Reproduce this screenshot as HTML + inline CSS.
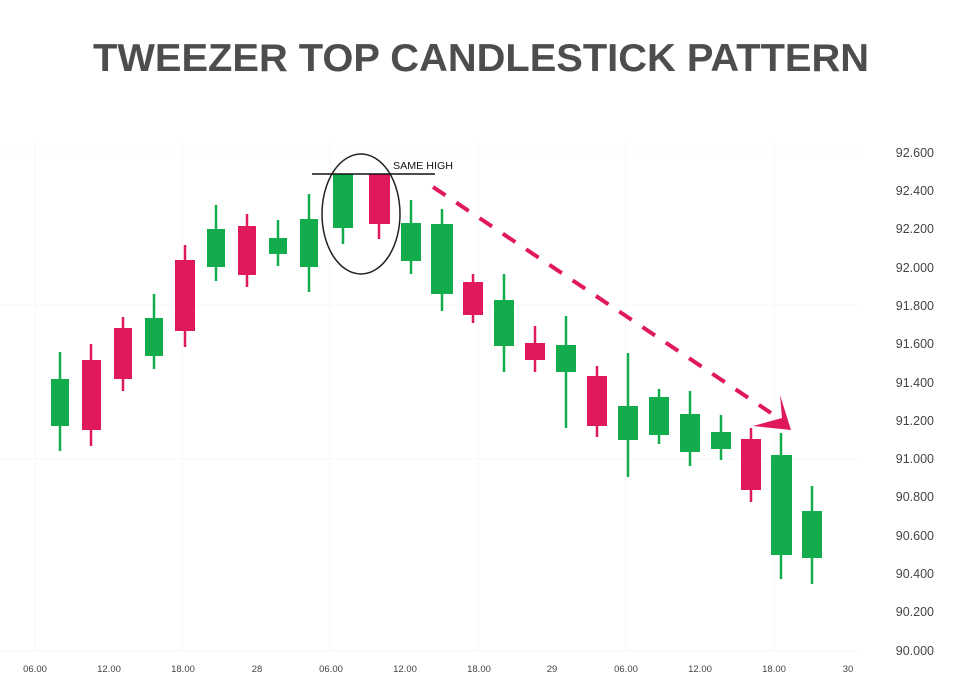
<!DOCTYPE html>
<html><head><meta charset="utf-8"><style>
html,body{margin:0;padding:0;background:#fff;}
svg{display:block;}
</style></head><body>
<svg width="960" height="686" viewBox="0 0 960 686" xmlns="http://www.w3.org/2000/svg">
<rect width="960" height="686" fill="#fff"/>
<text x="481" y="71" text-anchor="middle" font-family="Liberation Sans, sans-serif" font-weight="bold" font-size="39" fill="#4d4d4d" textLength="776" lengthAdjust="spacingAndGlyphs">TWEEZER TOP CANDLESTICK PATTERN</text>
<g stroke="#f7f7f7" stroke-width="1">
<line x1="0" y1="152" x2="860" y2="152"/><line x1="0" y1="305" x2="860" y2="305"/><line x1="0" y1="459" x2="860" y2="459"/><line x1="0" y1="651" x2="860" y2="651"/>
<line x1="35" y1="140" x2="35" y2="651"/><line x1="182" y1="140" x2="182" y2="651"/><line x1="330" y1="140" x2="330" y2="651"/><line x1="478" y1="140" x2="478" y2="651"/><line x1="626" y1="140" x2="626" y2="651"/><line x1="774" y1="140" x2="774" y2="651"/>
</g>
<g font-family="Liberation Sans, sans-serif" font-size="12.5" fill="#444" text-anchor="end">
<text x="934" y="157">92.600</text><text x="934" y="195">92.400</text><text x="934" y="233">92.200</text><text x="934" y="272">92.000</text><text x="934" y="310">91.800</text><text x="934" y="348">91.600</text><text x="934" y="387">91.400</text><text x="934" y="425">91.200</text><text x="934" y="463">91.000</text><text x="934" y="501">90.800</text><text x="934" y="540">90.600</text><text x="934" y="578">90.400</text><text x="934" y="616">90.200</text><text x="934" y="655">90.000</text>
</g>
<g font-family="Liberation Sans, sans-serif" font-size="9.5" fill="#444" text-anchor="middle">
<text x="35" y="672">06.00</text><text x="109" y="672">12.00</text><text x="183" y="672">18.00</text><text x="257" y="672">28</text><text x="331" y="672">06.00</text><text x="405" y="672">12.00</text><text x="479" y="672">18.00</text><text x="552" y="672">29</text><text x="626" y="672">06.00</text><text x="700" y="672">12.00</text><text x="774" y="672">18.00</text><text x="848" y="672">30</text>
</g>
<g stroke-width="2.5">
<line x1="60" y1="352" x2="60" y2="451" stroke="#12ac4c"/><rect x="51" y="379" width="18" height="47" fill="#12ac4c"/>
<line x1="91" y1="344" x2="91" y2="446" stroke="#e0195a"/><rect x="82" y="360" width="19" height="70" fill="#e0195a"/>
<line x1="123" y1="317" x2="123" y2="391" stroke="#e0195a"/><rect x="114" y="328" width="18" height="51" fill="#e0195a"/>
<line x1="154" y1="294" x2="154" y2="369" stroke="#12ac4c"/><rect x="145" y="318" width="18" height="38" fill="#12ac4c"/>
<line x1="185" y1="245" x2="185" y2="347" stroke="#e0195a"/><rect x="175" y="260" width="20" height="71" fill="#e0195a"/>
<line x1="216" y1="205" x2="216" y2="281" stroke="#12ac4c"/><rect x="207" y="229" width="18" height="38" fill="#12ac4c"/>
<line x1="247" y1="214" x2="247" y2="287" stroke="#e0195a"/><rect x="238" y="226" width="18" height="49" fill="#e0195a"/>
<line x1="278" y1="220" x2="278" y2="266" stroke="#12ac4c"/><rect x="269" y="238" width="18" height="16" fill="#12ac4c"/>
<line x1="309" y1="194" x2="309" y2="292" stroke="#12ac4c"/><rect x="300" y="219" width="18" height="48" fill="#12ac4c"/>
<line x1="343" y1="174" x2="343" y2="244" stroke="#12ac4c"/><rect x="333" y="174" width="20" height="54" fill="#12ac4c"/>
<line x1="379" y1="174" x2="379" y2="239" stroke="#e0195a"/><rect x="369" y="174" width="21" height="50" fill="#e0195a"/>
<line x1="411" y1="200" x2="411" y2="274" stroke="#12ac4c"/><rect x="401" y="223" width="20" height="38" fill="#12ac4c"/>
<line x1="442" y1="209" x2="442" y2="311" stroke="#12ac4c"/><rect x="431" y="224" width="22" height="70" fill="#12ac4c"/>
<line x1="473" y1="274" x2="473" y2="323" stroke="#e0195a"/><rect x="463" y="282" width="20" height="33" fill="#e0195a"/>
<line x1="504" y1="274" x2="504" y2="372" stroke="#12ac4c"/><rect x="494" y="300" width="20" height="46" fill="#12ac4c"/>
<line x1="535" y1="326" x2="535" y2="372" stroke="#e0195a"/><rect x="525" y="343" width="20" height="17" fill="#e0195a"/>
<line x1="566" y1="316" x2="566" y2="428" stroke="#12ac4c"/><rect x="556" y="345" width="20" height="27" fill="#12ac4c"/>
<line x1="597" y1="366" x2="597" y2="437" stroke="#e0195a"/><rect x="587" y="376" width="20" height="50" fill="#e0195a"/>
<line x1="628" y1="353" x2="628" y2="477" stroke="#12ac4c"/><rect x="618" y="406" width="20" height="34" fill="#12ac4c"/>
<line x1="659" y1="389" x2="659" y2="444" stroke="#12ac4c"/><rect x="649" y="397" width="20" height="38" fill="#12ac4c"/>
<line x1="690" y1="391" x2="690" y2="466" stroke="#12ac4c"/><rect x="680" y="414" width="20" height="38" fill="#12ac4c"/>
<line x1="721" y1="415" x2="721" y2="460" stroke="#12ac4c"/><rect x="711" y="432" width="20" height="17" fill="#12ac4c"/>
<line x1="751" y1="428" x2="751" y2="502" stroke="#e0195a"/><rect x="741" y="439" width="20" height="51" fill="#e0195a"/>
<line x1="781" y1="433" x2="781" y2="579" stroke="#12ac4c"/><rect x="771" y="455" width="21" height="100" fill="#12ac4c"/>
<line x1="812" y1="486" x2="812" y2="584" stroke="#12ac4c"/><rect x="802" y="511" width="20" height="47" fill="#12ac4c"/>
</g>
<ellipse cx="361" cy="214" rx="39" ry="60" fill="none" stroke="#222" stroke-width="1.5"/>
<line x1="312" y1="174" x2="435" y2="174" stroke="#111" stroke-width="1.5"/>
<text x="393" y="169" font-family="Liberation Sans, sans-serif" font-size="10.5" fill="#111" textLength="60" lengthAdjust="spacingAndGlyphs">SAME HIGH</text>
<line x1="433" y1="187" x2="771" y2="413" stroke="#e0195a" stroke-width="4" stroke-dasharray="15 13"/>
<polygon points="780,395 791,430 753,426 782,418" fill="#e0195a"/>
</svg>
</body></html>
